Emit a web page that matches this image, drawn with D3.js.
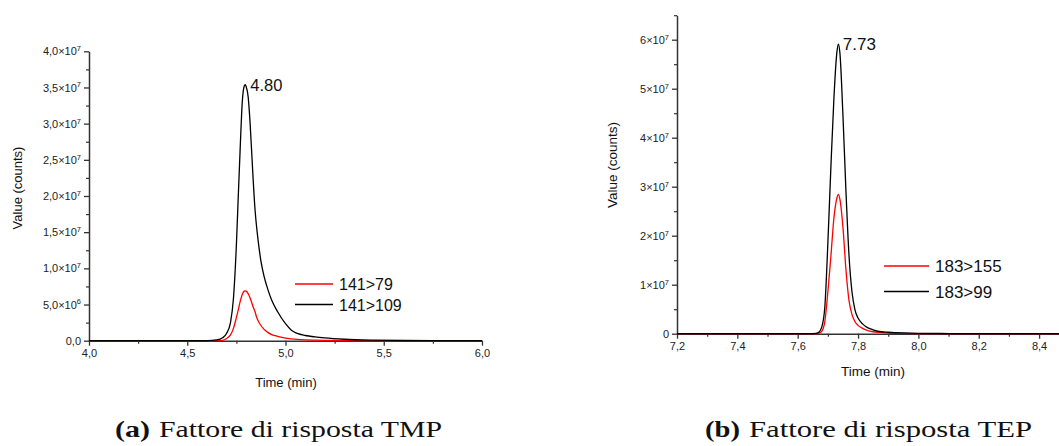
<!DOCTYPE html>
<html>
<head>
<meta charset="utf-8">
<script src="https://cdn.jsdelivr.net/npm/d3@7"></script>
<style>
  html, body { margin: 0; padding: 0; background: #fff; }
  svg { display: block; }
  .tick text { font-family: "Liberation Sans", Arial, sans-serif; fill: #222; }
</style>
</head>
<body>
<svg id="chart" width="1059" height="446"></svg>
<script>
// ---- (a) TMP: transitions 141>79 and 141>109 ----
const tmpTime = [4.0, 4.5, 4.60, 4.65, 4.68, 4.70, 4.72, 4.735, 4.75, 4.76, 4.77, 4.78, 4.79, 4.795, 4.80,
  4.81, 4.82, 4.83, 4.835, 4.845, 4.855, 4.86, 4.875, 4.89, 4.91, 4.93, 4.96, 5.0, 5.03, 5.06, 5.1, 5.15, 5.2, 5.3, 5.45, 5.6, 5.8, 6.0];
const tmp141to109 = [0, 0, 0, 0.01e7, 0.04e7, 0.10e7, 0.25e7, 0.58e7, 1.32e7, 2.02e7, 2.70e7, 3.30e7, 3.52e7, 3.54e7, 3.51e7,
  3.37e7, 3.00e7, 2.50e7, 2.25e7, 1.81e7, 1.52e7, 1.40e7, 1.10e7, 0.90e7, 0.71e7, 0.56e7, 0.40e7, 0.235e7, 0.145e7, 0.10e7, 0.072e7, 0.052e7, 0.038e7, 0.02e7, 0.008e7, 0.003e7, 0.001e7, 0];
const tmp141to79 = [0, 0, 0, 0, 0.005e7, 0.03e7, 0.08e7, 0.17e7, 0.32e7, 0.43e7, 0.55e7, 0.64e7, 0.685e7, 0.69e7, 0.685e7,
  0.65e7, 0.59e7, 0.51e7, 0.47e7, 0.40e7, 0.31e7, 0.28e7, 0.21e7, 0.16e7, 0.115e7, 0.085e7, 0.06e7, 0.035e7, 0.025e7, 0.018e7, 0.012e7, 0.008e7, 0.005e7, 0.002e7, 0, 0, 0, 0];
const tmpXDomain = [4.0, 6.0];
const tmpYDomain = [0, 4e7];
const tmpXTicks = [4.0, 4.5, 5.0, 5.5, 6.0];
const tmpXTickLabels = ["4,0", "4,5", "5,0", "5,5", "6,0"];
const tmpXMinor = [4.25, 4.75, 5.25, 5.75];
const tmpYTicks = [0, 5e6, 1e7, 1.5e7, 2e7, 2.5e7, 3e7, 3.5e7, 4e7];
const tmpYMantissa = ["0,0", "5,0×10", "1,0×10", "1,5×10", "2,0×10", "2,5×10", "3,0×10", "3,5×10", "4,0×10"];
const tmpYExponent = ["", "6", "7", "7", "7", "7", "7", "7", "7"];
const tmpYMinor = [2.5e6, 7.5e6, 1.25e7, 1.75e7, 2.25e7, 2.75e7, 3.25e7, 3.75e7];
const tmpPeak = { time: 4.795, value: 3.54e7, label: "4.80" };
const tmpSeriesNames = ["141>79", "141>109"];

// ---- (b) TEP: transitions 183>155 and 183>99 ----
const tepTime = [7.2, 7.5, 7.64, 7.66, 7.67, 7.68, 7.69, 7.70, 7.71, 7.72, 7.73, 7.735, 7.74, 7.75, 7.76, 7.77,
  7.78, 7.79, 7.80, 7.815, 7.83, 7.85, 7.87, 7.9, 7.95, 8.0, 8.1, 8.2, 8.3, 8.466];
const tep183to99 = [0, 0, 0, 0.005e7, 0.03e7, 0.14e7, 0.55e7, 1.85e7, 3.40e7, 4.80e7, 5.75e7, 5.91e7, 5.72e7, 4.45e7, 2.90e7, 1.60e7,
  0.85e7, 0.48e7, 0.32e7, 0.20e7, 0.13e7, 0.08e7, 0.045e7, 0.03e7, 0.015e7, 0.008e7, 0.003e7, 0.001e7, 0, 0];
const tep183to155 = [0, 0, 0, 0, 0.01e7, 0.05e7, 0.25e7, 0.85e7, 1.58e7, 2.36e7, 2.77e7, 2.845e7, 2.74e7, 2.17e7, 1.30e7, 0.68e7,
  0.39e7, 0.245e7, 0.17e7, 0.11e7, 0.07e7, 0.04e7, 0.025e7, 0.012e7, 0.005e7, 0.002e7, 0, 0, 0, 0];
const tepXDomain = [7.2, 8.466];
const tepYDomain = [0, 6.5e7];
const tepXTicks = [7.2, 7.4, 7.6, 7.8, 8.0, 8.2, 8.4];
const tepXTickLabels = ["7,2", "7,4", "7,6", "7,8", "8,0", "8,2", "8,4"];
const tepXMinor = [7.3, 7.5, 7.7, 7.9, 8.1, 8.3];
const tepYTicks = [0, 1e7, 2e7, 3e7, 4e7, 5e7, 6e7];
const tepYMantissa = ["0", "1×10", "2×10", "3×10", "4×10", "5×10", "6×10"];
const tepYExponent = ["", "7", "7", "7", "7", "7", "7"];
const tepYMinor = [0.5e7, 1.5e7, 2.5e7, 3.5e7, 4.5e7, 5.5e7, 6.5e7];
const tepPeak = { time: 7.733, value: 5.91e7, label: "7.73" };
const tepSeriesNames = ["183>155", "183>99"];

const captions = [
  { tag: "(a)", text: "Fattore di risposta TMP" },
  { tag: "(b)", text: "Fattore di risposta TEP" }
];

const svg = d3.select("#chart");
const SANS = '"Liberation Sans", Arial, sans-serif';
const SERIF = '"Liberation Serif", "Times New Roman", serif';
const AXIS = "#333";

function drawPanel(cfg) {
  const x = d3.scaleLinear().domain(cfg.xDomain).range(cfg.xRange);
  const y = d3.scaleLinear().domain(cfg.yDomain).range(cfg.yRange);
  const g = svg.append("g");

  // minor ticks
  g.append("g").attr("transform", `translate(0,${cfg.yRange[0]})`)
    .call(d3.axisBottom(x).tickValues(cfg.xMinor).tickSize(3).tickFormat(""))
    .call(a => a.select(".domain").remove())
    .call(a => a.selectAll("line").attr("stroke", AXIS).attr("stroke-width", 1.2));
  g.append("g").attr("transform", `translate(${cfg.xRange[0]},0)`)
    .call(d3.axisLeft(y).tickValues(cfg.yMinor).tickSize(3).tickFormat(""))
    .call(a => a.select(".domain").remove())
    .call(a => a.selectAll("line").attr("stroke", AXIS).attr("stroke-width", 1.2));

  // x axis
  const xa = g.append("g").attr("transform", `translate(0,${cfg.yRange[0]})`)
    .call(d3.axisBottom(x).tickValues(cfg.xTicks).tickSize(5).tickSizeOuter(0).tickPadding(4)
      .tickFormat((d, i) => cfg.xTickLabels[i]));
  xa.select(".domain").attr("stroke", AXIS).attr("stroke-width", 1.5);
  xa.selectAll("line").attr("stroke", AXIS).attr("stroke-width", 1.3);
  xa.selectAll("text").attr("font-size", cfg.tickFont).attr("font-family", SANS);

  // y axis with scientific labels
  const ya = g.append("g").attr("transform", `translate(${cfg.xRange[0]},0)`)
    .call(d3.axisLeft(y).tickValues(cfg.yTicks).tickSize(5).tickSizeOuter(0).tickPadding(3)
      .tickFormat(() => ""));
  ya.select(".domain").attr("stroke", AXIS).attr("stroke-width", 1.5);
  ya.selectAll("line").attr("stroke", AXIS).attr("stroke-width", 1.3);
  ya.selectAll(".tick text").each(function (d, i) {
    const t = d3.select(this).attr("font-size", cfg.tickFont).attr("font-family", SANS);
    t.append("tspan").text(cfg.yMantissa[i]);
    if (cfg.yExponent[i]) {
      t.append("tspan").attr("font-size", cfg.tickFont * 0.68).attr("dy", "-0.55em").text(cfg.yExponent[i]);
    }
  });

  // axis titles
  g.append("text")
    .attr("transform", `translate(${cfg.yTitleX},${cfg.yTitleY}) rotate(-90)`)
    .attr("text-anchor", "middle").attr("font-family", SANS).attr("font-size", cfg.titleFont)
    .attr("fill", "#111").text("Value (counts)");
  g.append("text")
    .attr("x", cfg.xTitleX).attr("y", cfg.xTitleY)
    .attr("text-anchor", "middle").attr("font-family", SANS).attr("font-size", cfg.titleFont)
    .attr("fill", "#111").text("Time (min)");

  // traces
  const line = d3.line().x(d => x(d[0])).y(d => y(d[1])).curve(d3.curveMonotoneX);
  cfg.series.forEach(s => {
    g.append("path")
      .datum(cfg.time.map((t, i) => [t, s.values[i]]))
      .attr("fill", "none").attr("stroke", s.color).attr("stroke-width", 1.3)
      .attr("stroke-linejoin", "round").attr("d", line);
  });

  // retention time label
  g.append("text")
    .attr("x", x(cfg.peak.time) + 5).attr("y", y(cfg.peak.value) + 6)
    .attr("font-family", SANS).attr("font-size", cfg.peakFont).attr("fill", "#111")
    .text(cfg.peak.label);

  // legend
  cfg.series.forEach((s, i) => {
    const ly = cfg.legendY + i * cfg.legendGap;
    g.append("line")
      .attr("x1", cfg.legendX).attr("x2", cfg.legendX + cfg.legendLen)
      .attr("y1", ly).attr("y2", ly)
      .attr("stroke", s.color).attr("stroke-width", 1.6);
    g.append("text")
      .attr("x", cfg.legendX + cfg.legendLen + 6).attr("y", ly + 6)
      .attr("font-family", SANS).attr("font-size", cfg.legendFont).attr("fill", "#111")
      .text(s.name);
  });
}

drawPanel({
  xDomain: tmpXDomain, yDomain: tmpYDomain, xRange: [89, 482], yRange: [340.7, 51.3],
  xTicks: tmpXTicks, xTickLabels: tmpXTickLabels, xMinor: tmpXMinor,
  yTicks: tmpYTicks, yMantissa: tmpYMantissa, yExponent: tmpYExponent, yMinor: tmpYMinor,
  tickFont: 11, titleFont: 13, peakFont: 16.5, legendFont: 16,
  yTitleX: 22, yTitleY: 188, xTitleX: 286, xTitleY: 387,
  time: tmpTime,
  series: [
    { name: tmpSeriesNames[0], values: tmp141to79, color: "#ff0000" },
    { name: tmpSeriesNames[1], values: tmp141to109, color: "#000000" }
  ],
  peak: tmpPeak,
  legendX: 295, legendLen: 38, legendY: 284, legendGap: 20.5
});

drawPanel({
  xDomain: tepXDomain, yDomain: tepYDomain, xRange: [677, 1059], yRange: [333.7, 15.2],
  xTicks: tepXTicks, xTickLabels: tepXTickLabels, xMinor: tepXMinor,
  yTicks: tepYTicks, yMantissa: tepYMantissa, yExponent: tepYExponent, yMinor: tepYMinor,
  tickFont: 11, titleFont: 13.5, peakFont: 17, legendFont: 17,
  yTitleX: 617, yTitleY: 165, xTitleX: 873, xTitleY: 376,
  time: tepTime,
  series: [
    { name: tepSeriesNames[0], values: tep183to155, color: "#ff0000" },
    { name: tepSeriesNames[1], values: tep183to99, color: "#000000" }
  ],
  peak: tepPeak,
  legendX: 884, legendLen: 45, legendY: 266, legendGap: 25.5
});

// sub-figure captions
const capPos = [{ tagX: 115, textX: 159 }, { tagX: 705, textX: 749 }];
captions.forEach((c, i) => {
  svg.append("text")
    .attr("x", capPos[i].tagX).attr("y", 437)
    .attr("font-family", SERIF).attr("font-weight", "bold").attr("font-size", 24)
    .attr("fill", "#111").attr("textLength", 35).attr("lengthAdjust", "spacingAndGlyphs")
    .text(c.tag);
  svg.append("text")
    .attr("x", capPos[i].textX).attr("y", 437)
    .attr("font-family", SERIF).attr("font-size", 24)
    .attr("fill", "#111").attr("textLength", 283).attr("lengthAdjust", "spacingAndGlyphs")
    .text(c.text);
});
</script>
</body>
</html>
